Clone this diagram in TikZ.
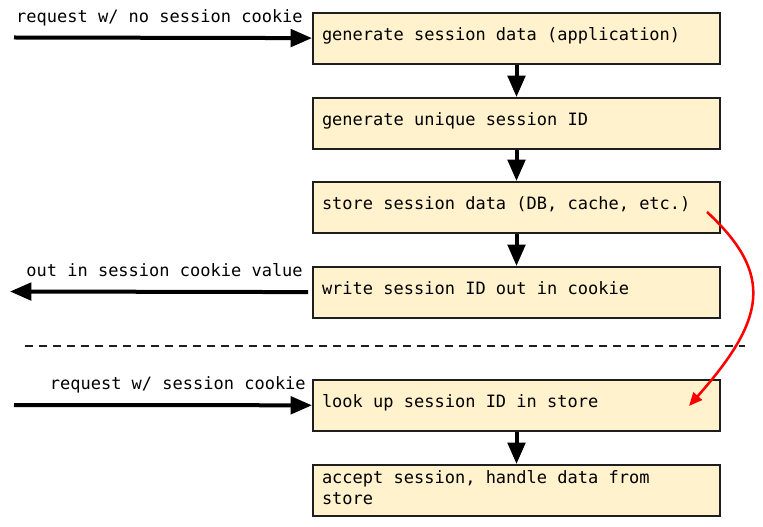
\documentclass[tikz,border=0pt]{standalone}
\usepackage{fontspec}
\setmonofont{DejaVu Sans Mono}[WordSpace={1,0,0}]
\usetikzlibrary{arrows.meta}
\definecolor{boxfill}{RGB}{255,242,204}
\definecolor{boxline}{RGB}{30,30,30}

\begin{document}
\begin{tikzpicture}
  [x=0.75pt,y=-0.75pt,
   every node/.style={font=\ttfamily\fontsize{12.75}{15.75}\selectfont},
   stepbox/.style={draw=boxline,line width=1.5pt,fill=boxfill,anchor=north west,
     minimum width=305.25pt,minimum height=38.25pt,text width=291.75pt,
     text depth=6.5pt,inner xsep=6.75pt,inner ysep=3pt,align=flush left},
   lbl/.style={anchor=east,inner sep=0pt},
   flow/.style={line width=3pt,-{Triangle[length=16pt,width=13pt]}},
   redflow/.style={red,line width=1.9pt,-{Triangle[length=10pt,width=8.5pt]}}]
  \useasboundingbox (0,0) rectangle (763,527);

  \node[stepbox] (n1) at (312,12) {generate session data (application)};
  \node[stepbox] (n2) at (312,97) {generate unique session ID};
  \node[stepbox] (n3) at (312,181) {store session data (DB, cache, etc.)};
  \node[stepbox] (n4) at (312,266) {write session ID out in cookie};
  \node[stepbox] (n5) at (312,379) {look up session ID in store};
  \node[stepbox,text depth=20pt,inner ysep=1pt] (n6) at (312,464)
    {accept session, handle data from\\store};

  \foreach \from/\to in {n1/n2,n2/n3,n3/n4,n5/n6}
    \draw[flow] (\from) -- (\to);

  % request / response on the left
  \coordinate (in1) at (14,37.5);
  \coordinate (out4) at (10,291.5);
  \coordinate (in5) at (14,405);
  \node[lbl] (l1) at (303,18) {request w/ no session cookie};
  \node[lbl] (l4) at (303,270) {out in session cookie value};
  \node[lbl] (l5) at (306,385) {request w/ session cookie};
  \draw[flow] (in1) -- (n1);
  \draw[flow,shorten <=3pt] (n4) -- (out4);
  \draw[flow] (in5) -- (n5);

  \draw[line width=1.5pt,boxline,dash pattern=on 6pt off 4.5pt] (25,346) -- (745,346);

  % stored data is looked up later
  \coordinate (r1) at (707,212);
  \coordinate (r2) at (689,406);
  \draw[redflow] (r1) .. controls (775,275) and (765,320) .. (r2);

\end{tikzpicture}
\end{document}
